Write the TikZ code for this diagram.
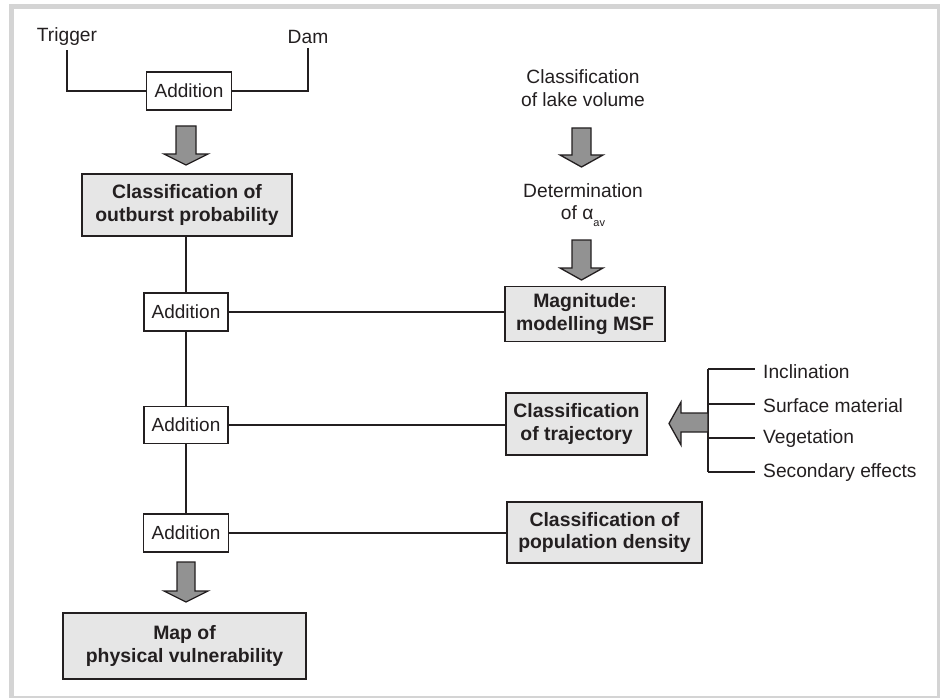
\documentclass[tikz,border=0pt]{standalone}
\usepackage{fontspec}
\setmainfont{Liberation Sans}
\definecolor{ink}{HTML}{231F20}
\definecolor{boxfill}{HTML}{E6E6E6}
\definecolor{arrowfill}{HTML}{929292}
\definecolor{framegray}{HTML}{D4D4D4}
\tikzset{
  txt/.style={inner sep=0pt, align=center, text=ink, font=\fontsize{19.2}{22.5}\selectfont},
  addbox/.style={draw=ink, line width=1.4pt, fill=white, inner sep=0pt, text=ink,
    font=\fontsize{19}{22.5}\selectfont, minimum height=38pt},
  graybox/.style={draw=ink, line width=1.6pt, fill=boxfill, inner sep=0pt, align=center, text=ink,
    font=\bfseries\fontsize{19.4}{22.5}\selectfont},
  conn/.style={draw=ink, line width=1.3pt},
  blockarrow/.style={draw=ink, line width=1.3pt, fill=arrowfill, line join=miter},
}
\begin{document}
\begin{tikzpicture}[x=1pt,y=-1pt]
\useasboundingbox (0,0) rectangle (940,698);
\draw[framegray, line width=5pt] (11.5,6.5) rectangle (939.5,698.5);

% left column
\node[txt] (trigger) at (67,37) {Trigger};
\node[txt] (dam) at (308,37) {Dam};
\node[addbox, minimum width=85pt] (add1) at (189,91) {Addition};
\node[graybox, minimum width=210pt, minimum height=62pt] (outb) at (187,205) {Classification of\\outburst probability};
\node[addbox, minimum width=84pt] (add2) at (186,312) {Addition};
\node[addbox, minimum width=84pt, minimum height=37pt] (add3) at (186,425) {Addition};
\node[addbox, minimum width=85pt] (add4) at (186,533) {Addition};
\node[graybox, minimum width=243pt, minimum height=66pt] (map) at (184.5,646) {Map of\\physical vulnerability};

% right column
\node[txt] (lake) at (583,88) {Classification\\of lake volume};
\node[txt] (alpha) at (583,205) {Determination\\of α\raisebox{-0.7ex}{\fontsize{11}{11}\selectfont av}};
\node[graybox, minimum width=160pt, minimum height=55pt] (msf) at (585,314) {Magnitude:\\modelling MSF};
\node[graybox, minimum width=141pt, minimum height=62pt] (traj) at (576.5,424) {Classification\\of trajectory};
\node[graybox, minimum width=195pt, minimum height=61pt] (pop) at (604.5,532.5) {Classification of\\population density};

% trajectory factors
\coordinate (brtop) at (708,369);
\coordinate (brbot) at (708,472);
\node[txt, anchor=west] (incl) at (763,372) {Inclination};
\node[txt, anchor=west] (surf) at (763,406) {Surface material};
\node[txt, anchor=west] (vege) at (763,439) {Vegetation};
\node[txt, anchor=west] (seco) at (763,473) {Secondary effects};

% connectors
\draw[conn] (trigger.south) ++(0,4) |- (add1.west);
\draw[conn] (dam.south) ++(0,4) |- (add1.east);
\draw[conn] (outb.south -| add2.north) -- (add2.north);
\draw[conn] (add2.south) -- (add3.north);
\draw[conn] (add3.south) -- (add4.north);
\draw[conn] (add2.east) -- (msf.west |- add2.east);
\draw[conn] (add3.east) -- (traj.west |- add3.east);
\draw[conn] (add4.east) -- (pop.west |- add4.east);
\draw[conn] (brtop) -- (brbot);
\draw[conn] (brtop) -- (755,369);
\draw[conn] (708,404) -- (755,404);
\draw[conn] (708,438) -- (755,438);
\draw[conn] (brbot) -- (755,472);

% block arrows
\draw[blockarrow] (176,126) -- (196,126) -- (196,154) -- (208,154) -- (186,165) -- (164,154) -- (176,154) -- cycle;
\draw[blockarrow] (177,562) -- (195,562) -- (195,591) -- (208,591) -- (186,602) -- (164,591) -- (177,591) -- cycle;
\draw[blockarrow] (572,128) -- (591,128) -- (591,155) -- (603,155) -- (581.5,167) -- (560,155) -- (572,155) -- cycle;
\draw[blockarrow] (572,240) -- (591,240) -- (591,268) -- (603,268) -- (581.5,280) -- (560,268) -- (572,268) -- cycle;
\draw[blockarrow] (708,413) -- (681,413) -- (681,402) -- (669,423.5) -- (681,445) -- (681,432) -- (708,432) -- cycle;
\end{tikzpicture}
\end{document}
